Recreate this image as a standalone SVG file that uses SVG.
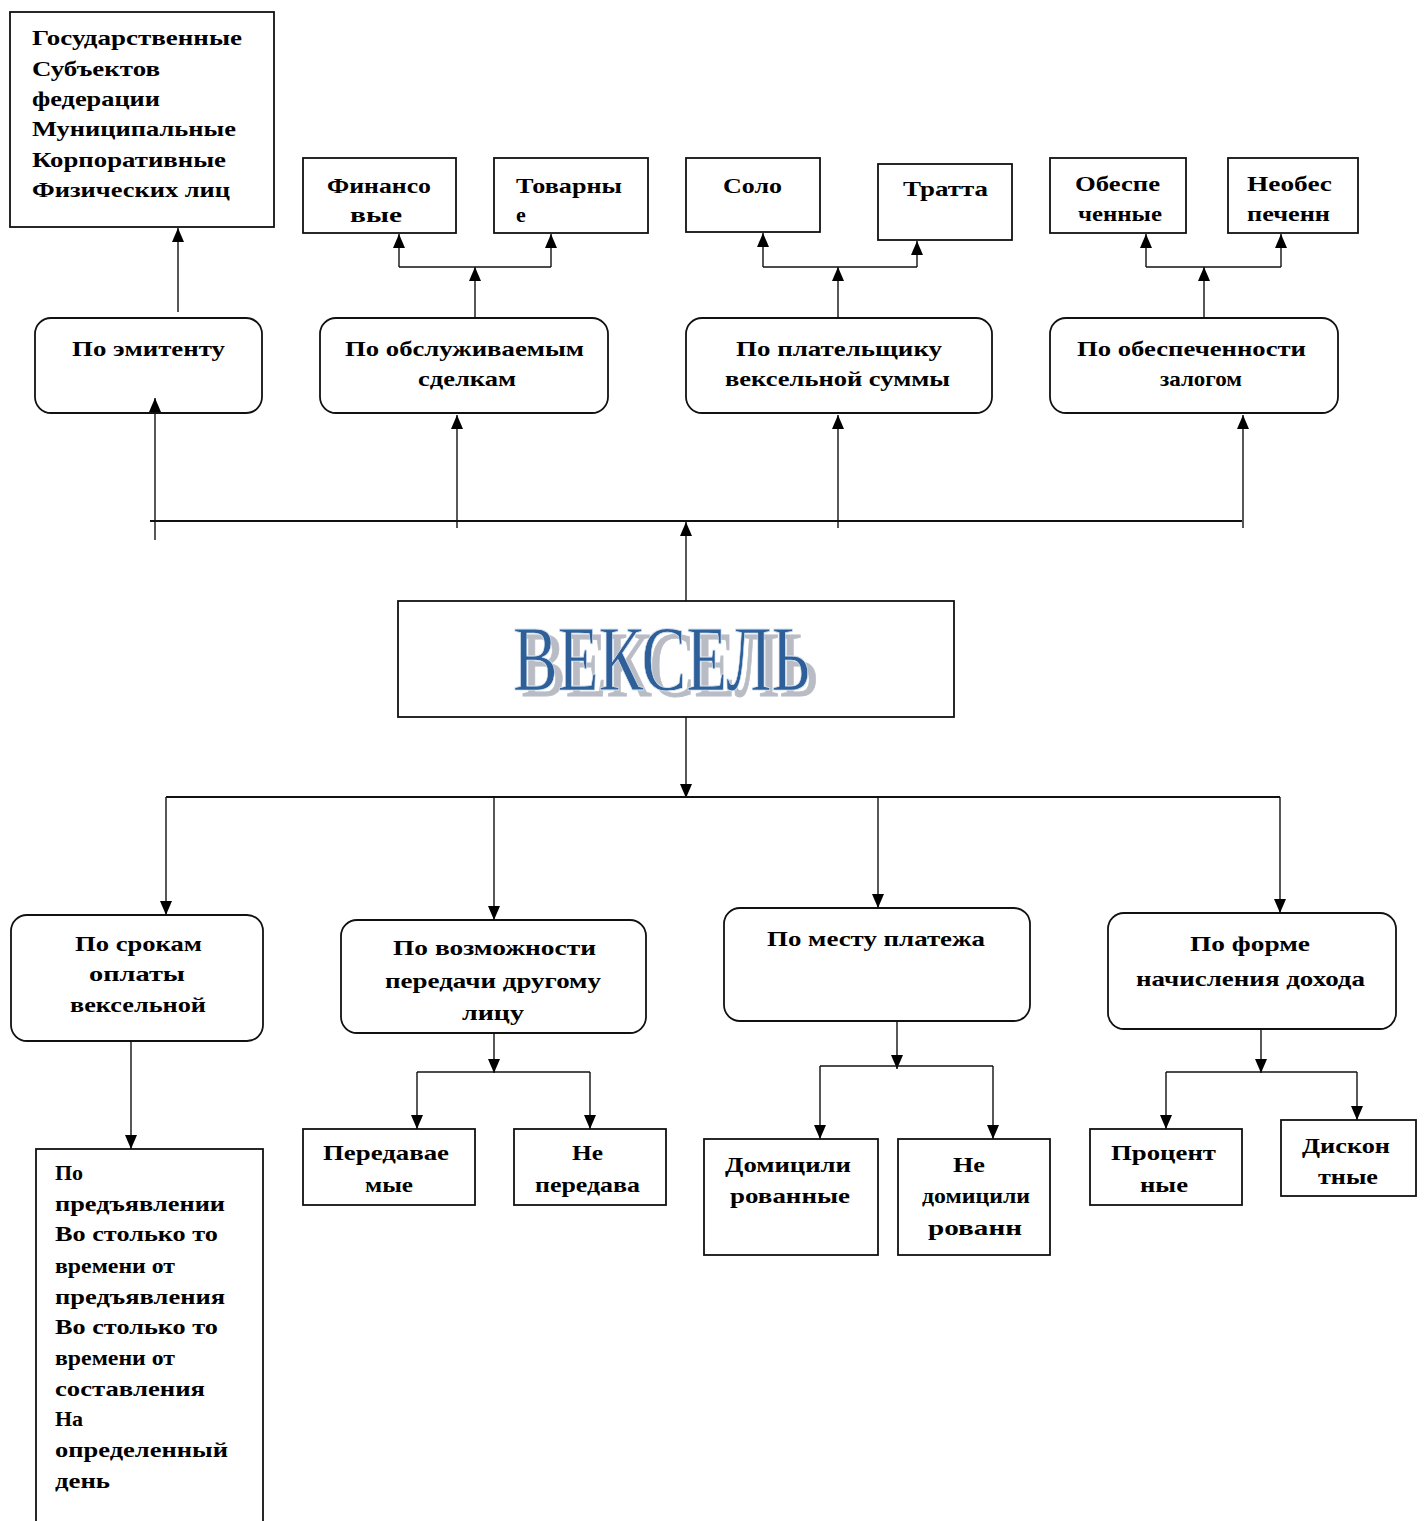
<svg xmlns="http://www.w3.org/2000/svg" width="1426" height="1521" viewBox="0 0 1426 1521">
<style>
.bx{fill:#fff;stroke:#111;stroke-width:1.8}
.ln{fill:none;stroke:#111;stroke-width:1.4}
.t{font-family:"Liberation Serif","Times New Roman",serif;font-weight:bold;font-size:22px;fill:#000}
.big{font-family:"Liberation Serif","Times New Roman",serif;font-size:94px}
</style>
<defs>
<marker id="ar" markerUnits="userSpaceOnUse" markerWidth="14" markerHeight="12" viewBox="0 0 14 12" refX="14" refY="6" orient="auto">
<path d="M0,0 L14,6 L0,12 Z" fill="#000"/>
</marker>
<filter id="shadow" x="-10%" y="-20%" width="130%" height="150%">
<feOffset in="SourceAlpha" dx="8" dy="6" result="off"/>
<feFlood flood-color="#b9bcc4"/>
<feComposite in2="off" operator="in" result="sh"/>
<feMerge><feMergeNode in="sh"/><feMergeNode in="SourceGraphic"/></feMerge>
</filter>
</defs>
<rect width="1426" height="1521" fill="#fff"/>

<g id="n-issuers">
<rect class="bx" x="10" y="12" width="264" height="215"/>
<text class="t" x="32" y="45" textLength="210" lengthAdjust="spacingAndGlyphs">Государственные</text>
<text class="t" x="32" y="76" textLength="128" lengthAdjust="spacingAndGlyphs">Субъектов</text>
<text class="t" x="32" y="106" textLength="128" lengthAdjust="spacingAndGlyphs">федерации</text>
<text class="t" x="32" y="136" textLength="204" lengthAdjust="spacingAndGlyphs">Муниципальные</text>
<text class="t" x="32" y="167" textLength="194" lengthAdjust="spacingAndGlyphs">Корпоративные</text>
<text class="t" x="32" y="197" textLength="198" lengthAdjust="spacingAndGlyphs">Физических лиц</text>
</g>

<g id="n-fin">
<rect class="bx" x="303" y="158" width="153" height="75"/>
<text class="t" x="327" y="193" textLength="104" lengthAdjust="spacingAndGlyphs">Финансо</text>
<text class="t" x="350" y="222" textLength="52" lengthAdjust="spacingAndGlyphs">вые</text>
</g>
<g id="n-tov">
<rect class="bx" x="494" y="158" width="154" height="75"/>
<text class="t" x="516" y="193" textLength="106" lengthAdjust="spacingAndGlyphs">Товарны</text>
<text class="t" x="516" y="222">е</text>
</g>
<g id="n-solo">
<rect class="bx" x="686" y="158" width="134" height="74"/>
<text class="t" x="723" y="193" textLength="59" lengthAdjust="spacingAndGlyphs">Соло</text>
</g>
<g id="n-tratta">
<rect class="bx" x="878" y="164" width="134" height="76"/>
<text class="t" x="903" y="196" textLength="85" lengthAdjust="spacingAndGlyphs">Тратта</text>
</g>
<g id="n-obesp">
<rect class="bx" x="1050" y="158" width="136" height="75"/>
<text class="t" x="1075" y="191" textLength="85" lengthAdjust="spacingAndGlyphs">Обеспе</text>
<text class="t" x="1078" y="221" textLength="84" lengthAdjust="spacingAndGlyphs">ченные</text>
</g>
<g id="n-neobesp">
<rect class="bx" x="1228" y="158" width="130" height="75"/>
<text class="t" x="1247" y="191" textLength="85" lengthAdjust="spacingAndGlyphs">Необес</text>
<text class="t" x="1247" y="221" textLength="83" lengthAdjust="spacingAndGlyphs">печенн</text>
</g>

<g id="n-emitent">
<rect class="bx" x="35" y="318" width="227" height="95" rx="16"/>
<text class="t" x="72" y="356" textLength="153" lengthAdjust="spacingAndGlyphs">По эмитенту</text>
</g>
<g id="n-sdelki">
<rect class="bx" x="320" y="318" width="288" height="95" rx="16"/>
<text class="t" x="345" y="356" textLength="239" lengthAdjust="spacingAndGlyphs">По обслуживаемым</text>
<text class="t" x="418" y="386" textLength="98" lengthAdjust="spacingAndGlyphs">сделкам</text>
</g>
<g id="n-platelshik">
<rect class="bx" x="686" y="318" width="306" height="95" rx="16"/>
<text class="t" x="736" y="356" textLength="206" lengthAdjust="spacingAndGlyphs">По плательщику</text>
<text class="t" x="725" y="386" textLength="225" lengthAdjust="spacingAndGlyphs">вексельной суммы</text>
</g>
<g id="n-zalog">
<rect class="bx" x="1050" y="318" width="288" height="95" rx="16"/>
<text class="t" x="1077" y="356" textLength="229" lengthAdjust="spacingAndGlyphs">По обеспеченности</text>
<text class="t" x="1160" y="386" textLength="82" lengthAdjust="spacingAndGlyphs">залогом</text>
</g>

<g id="n-veksel">
<rect class="bx" x="398" y="601" width="556" height="116"/>
<text class="big" x="513" y="690" textLength="297" lengthAdjust="spacingAndGlyphs" fill="#2d5e98" stroke="#d6e4f2" stroke-width="0.8" filter="url(#shadow)">ВЕКСЕЛЬ</text>
</g>

<g id="n-sroki">
<rect class="bx" x="11" y="915" width="252" height="126" rx="16"/>
<text class="t" x="75" y="951" textLength="127" lengthAdjust="spacingAndGlyphs">По срокам</text>
<text class="t" x="89" y="981" textLength="96" lengthAdjust="spacingAndGlyphs">оплаты</text>
<text class="t" x="70" y="1012" textLength="136" lengthAdjust="spacingAndGlyphs">вексельной</text>
</g>
<g id="n-peredacha">
<rect class="bx" x="341" y="920" width="305" height="113" rx="16"/>
<text class="t" x="393" y="955" textLength="203" lengthAdjust="spacingAndGlyphs">По возможности</text>
<text class="t" x="385" y="988" textLength="216" lengthAdjust="spacingAndGlyphs">передачи другому</text>
<text class="t" x="462" y="1020" textLength="62" lengthAdjust="spacingAndGlyphs">лицу</text>
</g>
<g id="n-mesto">
<rect class="bx" x="724" y="908" width="306" height="113" rx="16"/>
<text class="t" x="767" y="946" textLength="218" lengthAdjust="spacingAndGlyphs">По месту платежа</text>
</g>
<g id="n-dohod">
<rect class="bx" x="1108" y="913" width="288" height="116" rx="16"/>
<text class="t" x="1190" y="951" textLength="120" lengthAdjust="spacingAndGlyphs">По форме</text>
<text class="t" x="1136" y="986" textLength="229" lengthAdjust="spacingAndGlyphs">начисления дохода</text>
</g>

<g id="n-predyavl">
<rect class="bx" x="36" y="1149" width="227" height="380"/>
<text class="t" x="55" y="1180">По</text>
<text class="t" x="55" y="1211" textLength="170" lengthAdjust="spacingAndGlyphs">предъявлении</text>
<text class="t" x="55" y="1241" textLength="163" lengthAdjust="spacingAndGlyphs">Во столько то</text>
<text class="t" x="55" y="1273" textLength="120" lengthAdjust="spacingAndGlyphs">времени от</text>
<text class="t" x="55" y="1304" textLength="170" lengthAdjust="spacingAndGlyphs">предъявления</text>
<text class="t" x="55" y="1334" textLength="163" lengthAdjust="spacingAndGlyphs">Во столько то</text>
<text class="t" x="55" y="1365" textLength="120" lengthAdjust="spacingAndGlyphs">времени от</text>
<text class="t" x="55" y="1396" textLength="150" lengthAdjust="spacingAndGlyphs">составления</text>
<text class="t" x="55" y="1426">На</text>
<text class="t" x="55" y="1457" textLength="173" lengthAdjust="spacingAndGlyphs">определенный</text>
<text class="t" x="55" y="1488" textLength="55" lengthAdjust="spacingAndGlyphs">день</text>
</g>

<g id="n-peredav">
<rect class="bx" x="303" y="1129" width="172" height="76"/>
<text class="t" x="323" y="1160" textLength="126" lengthAdjust="spacingAndGlyphs">Передавае</text>
<text class="t" x="365" y="1192" textLength="48" lengthAdjust="spacingAndGlyphs">мые</text>
</g>
<g id="n-neperedav">
<rect class="bx" x="514" y="1129" width="152" height="76"/>
<text class="t" x="572" y="1160" textLength="31" lengthAdjust="spacingAndGlyphs">Не</text>
<text class="t" x="535" y="1192" textLength="105" lengthAdjust="spacingAndGlyphs">передава</text>
</g>
<g id="n-domic">
<rect class="bx" x="704" y="1139" width="174" height="116"/>
<text class="t" x="725" y="1172" textLength="126" lengthAdjust="spacingAndGlyphs">Домицили</text>
<text class="t" x="730" y="1203" textLength="120" lengthAdjust="spacingAndGlyphs">рованные</text>
</g>
<g id="n-nedomic">
<rect class="bx" x="898" y="1139" width="152" height="116"/>
<text class="t" x="953" y="1172" textLength="32" lengthAdjust="spacingAndGlyphs">Не</text>
<text class="t" x="922" y="1203" textLength="108" lengthAdjust="spacingAndGlyphs">домицили</text>
<text class="t" x="928" y="1235" textLength="94" lengthAdjust="spacingAndGlyphs">рованн</text>
</g>
<g id="n-procent">
<rect class="bx" x="1090" y="1129" width="152" height="76"/>
<text class="t" x="1111" y="1160" textLength="105" lengthAdjust="spacingAndGlyphs">Процент</text>
<text class="t" x="1140" y="1192" textLength="48" lengthAdjust="spacingAndGlyphs">ные</text>
</g>
<g id="n-diskont">
<rect class="bx" x="1281" y="1120" width="135" height="76"/>
<text class="t" x="1302" y="1153" textLength="88" lengthAdjust="spacingAndGlyphs">Дискон</text>
<text class="t" x="1318" y="1184" textLength="60" lengthAdjust="spacingAndGlyphs">тные</text>
</g>

<g id="connectors">
<line class="ln" x1="178" y1="312" x2="178" y2="228" marker-end="url(#ar)"/>
<line class="ln" x1="475" y1="318" x2="475" y2="267" marker-end="url(#ar)"/>
<polyline class="ln" points="399,267 551,267"/>
<line class="ln" x1="399" y1="267" x2="399" y2="234" marker-end="url(#ar)"/>
<line class="ln" x1="551" y1="267" x2="551" y2="234" marker-end="url(#ar)"/>
<line class="ln" x1="838" y1="318" x2="838" y2="267" marker-end="url(#ar)"/>
<polyline class="ln" points="763,267 917,267"/>
<line class="ln" x1="763" y1="267" x2="763" y2="233" marker-end="url(#ar)"/>
<line class="ln" x1="917" y1="267" x2="917" y2="241" marker-end="url(#ar)"/>
<line class="ln" x1="1204" y1="318" x2="1204" y2="267" marker-end="url(#ar)"/>
<polyline class="ln" points="1146,267 1281,267"/>
<line class="ln" x1="1146" y1="267" x2="1146" y2="234" marker-end="url(#ar)"/>
<line class="ln" x1="1281" y1="267" x2="1281" y2="234" marker-end="url(#ar)"/>
<polyline class="ln" points="150,521 1242,521" style="stroke-width:2"/>
<line class="ln" x1="155" y1="540" x2="155" y2="398" marker-end="url(#ar)"/>
<line class="ln" x1="457" y1="528" x2="457" y2="415" marker-end="url(#ar)"/>
<line class="ln" x1="838" y1="528" x2="838" y2="415" marker-end="url(#ar)"/>
<line class="ln" x1="1243" y1="528" x2="1243" y2="415" marker-end="url(#ar)"/>
<line class="ln" x1="686" y1="601" x2="686" y2="522" marker-end="url(#ar)"/>
<line class="ln" x1="686" y1="717" x2="686" y2="798" marker-end="url(#ar)"/>
<polyline class="ln" points="166,797 1280,797" style="stroke-width:2"/>
<line class="ln" x1="166" y1="797" x2="166" y2="915" marker-end="url(#ar)"/>
<line class="ln" x1="494" y1="797" x2="494" y2="920" marker-end="url(#ar)"/>
<line class="ln" x1="878" y1="797" x2="878" y2="908" marker-end="url(#ar)"/>
<line class="ln" x1="1280" y1="797" x2="1280" y2="913" marker-end="url(#ar)"/>
<line class="ln" x1="131" y1="1041" x2="131" y2="1149" marker-end="url(#ar)"/>
<line class="ln" x1="494" y1="1033" x2="494" y2="1073" marker-end="url(#ar)"/>
<polyline class="ln" points="417,1072 590,1072"/>
<line class="ln" x1="417" y1="1072" x2="417" y2="1129" marker-end="url(#ar)"/>
<line class="ln" x1="590" y1="1072" x2="590" y2="1129" marker-end="url(#ar)"/>
<line class="ln" x1="897" y1="1021" x2="897" y2="1069" marker-end="url(#ar)"/>
<polyline class="ln" points="820,1066 993,1066"/>
<line class="ln" x1="820" y1="1066" x2="820" y2="1139" marker-end="url(#ar)"/>
<line class="ln" x1="993" y1="1066" x2="993" y2="1139" marker-end="url(#ar)"/>
<line class="ln" x1="1261" y1="1029" x2="1261" y2="1073" marker-end="url(#ar)"/>
<polyline class="ln" points="1166,1072 1357,1072"/>
<line class="ln" x1="1166" y1="1072" x2="1166" y2="1129" marker-end="url(#ar)"/>
<line class="ln" x1="1357" y1="1072" x2="1357" y2="1120" marker-end="url(#ar)"/>
</g>
</svg>
